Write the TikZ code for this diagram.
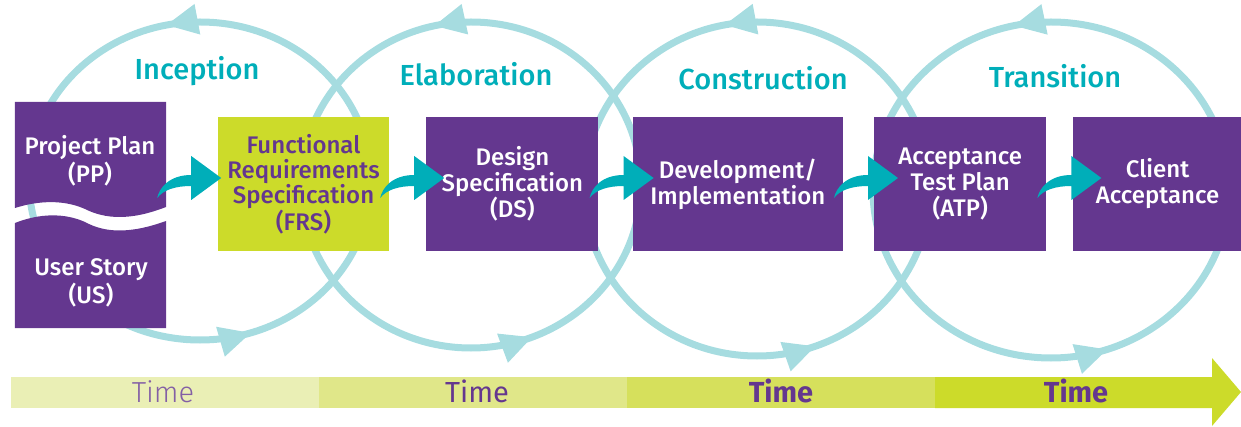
\documentclass[tikz,border=0pt]{standalone}
\usepackage{fontspec}
\setmainfont{Fira Sans}[BoldFont={Fira Sans Medium}]
\newfontfamily\firalight{Fira Sans Light}
\newfontfamily\firaheavy{Fira Sans}[UprightFont={* Bold}]
\usetikzlibrary{arrows.meta,positioning,calc,decorations.markings}
\definecolor{ringblue}{HTML}{A6DCE0}
\definecolor{flowteal}{HTML}{00AEB9}
\definecolor{plum}{HTML}{64378F}
\definecolor{lime}{HTML}{CCDB2A}
\definecolor{timeA}{HTML}{EAEFB5}
\definecolor{timeB}{HTML}{E0E789}
\definecolor{timeC}{HTML}{D6E05C}
\tikzset{font=\fontsize{24}{26}\selectfont}
\tikzset{ring/.style 2 args={draw=ringblue, color=ringblue, line width=7pt,
    postaction={decorate}, decoration={markings,
      mark=at position #1 with {\arrow{Triangle[length=32pt,width=29pt]}},
      mark=at position #2 with {\arrow{Triangle[length=32pt,width=29pt]}}}}}
\tikzset{phase/.style={fill=plum, text=white, align=center, inner sep=0pt,
    minimum height=134pt, font=\fontsize{24}{26}\selectfont\bfseries}}
\tikzset{doctext/.style={text=white, align=center, font=\fontsize{24}{28}\selectfont\bfseries}}
\tikzset{stage/.style={anchor=base, text=flowteal, font=\fontsize{29}{30}\selectfont\bfseries}}
\tikzset{flow/.pic={\fill[flowteal] (0,0) .. controls (2,10) and (12,23) .. (34,23)
    -- (34,42) -- (64,20) -- (34,-2) -- (34,12) .. controls (18,12) and (6,8) .. cycle;}}

\begin{document}
\begin{tikzpicture}[x=1pt,y=1pt]
  \useasboundingbox (0,0) rectangle (1241,426);
  % the four cycles
  \draw[ring={0.283}{0.80}] (200,245) ellipse [x radius=171pt, y radius=159pt];
  \draw[ring={0.286}{0.81}] (471,241) ellipse [x radius=170pt, y radius=163pt];
  \draw[ring={0.281}{0.806}] (757,237) ellipse [x radius=173pt, y radius=167pt];
  \draw[ring={0.285}{0.803}] (1051,236) ellipse [x radius=178pt, y radius=168pt];
  % torn document
  \node[minimum width=151pt, minimum height=226pt, inner sep=0pt] (docs) at (90.5,211) {};
  \fill[plum] (docs.north west) -- (docs.north east) -- (166,219)
    .. controls (130,205) and (105,207) .. (85,217)
    .. controls (65,226) and (40,226) .. (15,218) -- cycle;
  \fill[plum] (docs.south west) -- (docs.south east) -- (166,205)
    .. controls (130,192) and (105,193) .. (85,204)
    .. controls (65,213) and (40,213) .. (15,203) -- cycle;
  \node[doctext] (pp) at (90,265) {Project Plan\\(PP)};
  \node[doctext] (us) at (91,143) {User Story\\(US)};
  % phases
  \node[phase, fill=lime, text=plum, minimum width=171pt,
    font=\fontsize{24}{25}\selectfont\bfseries] (frs) at (303.5,242)
    {Functional\\Requirements\\Specification\\(FRS)};
  \node[phase, minimum width=172pt, right=37pt of frs] (ds) {Design\\Specification\\(DS)};
  \node[phase, minimum width=210pt, right=34pt of ds] (dev) {Development/\\Implementation};
  \node[phase, minimum width=172pt, right=31pt of dev] (atp) {Acceptance\\Test Plan\\(ATP)};
  \node[phase, minimum width=170pt, right=26pt of atp] (client) {Client\\Acceptance};
  \foreach \a/\b in {docs/frs, frs/ds, ds/dev, dev/atp, atp/client}
    \pic at ($(\a.east |- \b.center)+(-9,-14)$) {flow};
  % stage names
  \node[stage] (inception) at (197,346) {Inception};
  \node[stage] (elaboration) at (476,340) {Elaboration};
  \node[stage] (construction) at (763,336) {Construction};
  \node[stage] (transition) at (1055,338) {Transition};
  % time bar
  \foreach \l/\r/\c in {11/319/timeA, 319/627/timeB, 627/935/timeC}
    \fill[\c] (\l,18) rectangle (\r,49);
  \fill[lime] (935,18) -- (1212,18) -- (1212,0) -- (1241,34) -- (1212,68) -- (1212,49) -- (935,49) -- cycle;
  \foreach \x/\f/\c [count=\i] in {163/\firalight/plum!80, 477/\mdseries/plum, 781/\firaheavy/plum, 1076/\firaheavy/plum}
    \node[anchor=base, text=\c, font=\fontsize{29}{30}\selectfont\f] (time\i) at (\x,24) {Time};
\end{tikzpicture}
\end{document}
